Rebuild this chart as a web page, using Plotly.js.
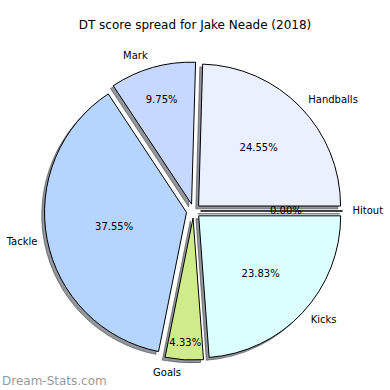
<!DOCTYPE html>
<html><head><meta charset="utf-8">
<script src="https://cdn.plot.ly/plotly-3.0.1.min.js"></script>
<style>html,body{margin:0;padding:0;background:#fff}#chart{width:390px;height:390px}</style>
</head><body><div id="chart"></div>
<script>
const titleText = 'DT score spread for Jake Neade (2018)';
const labels = ['Hitout', 'Handballs', 'Mark', 'Tackle', 'Goals', 'Kicks'];
const values = [0, 24.55, 9.75, 37.55, 4.33, 23.83];
const colors = ['#ffffff', '#eaf0ff', '#c6d8ff', '#b5d5ff', '#d0eb8a', '#dbffff'];
const explode = [0.05, 0.05, 0.05, 0.05, 0.05, 0.05];
const labelPull = [0.1, 0.1, 0.1, 0.1, 0.1, 0.1];
const watermark = 'Dream-Stats.com';

const W = 390, H = 390;
const dom = {x: [0.1138, 0.8785], y: [0.0767, 0.8413]};
const labDom = {x: [0.0956, 0.8967], y: [0.0585, 0.8595]};
const sh = 0.0072;
const shadowDom = {x: [dom.x[0] - sh, dom.x[1] - sh], y: [dom.y[0] - sh, dom.y[1] - sh]};

const total = values.reduce((a, b) => a + b, 0);
const pctText = v => (100 * v / total).toFixed(2) + '%';

const common = {
  type: 'pie', labels: labels, values: values, sort: false,
  direction: 'counterclockwise', rotation: 90,
  hoverinfo: 'skip'
};

const shadow = Object.assign({}, common, {
  domain: shadowDom, pull: explode,
  marker: {colors: labels.map(() => 'rgba(40,45,55,0.5)'), line: {color: 'rgba(40,45,55,0.5)', width: 1}},
  textinfo: 'none'
});
const main = Object.assign({}, common, {
  domain: dom, pull: explode,
  marker: {colors: colors, line: {color: '#000000', width: 1}},
  texttemplate: values.map(v => v > 0 ? '%{percent:.2%}' : ''),
  textposition: 'inside',
  insidetextorientation: 'horizontal',
  textfont: {family: 'DejaVu Sans', size: 10, color: '#000000'}
});
const lab = Object.assign({}, common, {
  domain: labDom, pull: labelPull,
  marker: {colors: labels.map(() => 'rgba(0,0,0,0)'), line: {width: 0}},
  textinfo: 'label',
  textposition: 'outside',
  textfont: {family: 'DejaVu Sans', size: 10, color: '#000000'}
});

// percentage labels of empty slices (the pie cannot place text inside a zero-width slice)
const cxp = (dom.x[0] + dom.x[1]) / 2, cyp = (dom.y[0] + dom.y[1]) / 2;
const rPx = Math.min((dom.x[1] - dom.x[0]) * W, (dom.y[1] - dom.y[0]) * H) / 2 / (1 + Math.max(...explode));
const zeroAnns = [];
let cum = 0;
values.forEach((v, i) => {
  if (v === 0) {
    const th = 2 * Math.PI * (cum + v / 2) / total;
    const d = (0.6 + explode[i]) * rPx;
    zeroAnns.push({
      text: pctText(v), xref: 'paper', yref: 'paper',
      x: cxp + d * Math.cos(th) / W, y: cyp + d * Math.sin(th) / H,
      xanchor: 'center', yanchor: 'middle', showarrow: false,
      font: {family: 'DejaVu Sans', size: 10, color: '#000000'}
    });
  }
  cum += v;
});

const layout = {
  width: W, height: H,
  margin: {l: 0, r: 0, t: 0, b: 0},
  paper_bgcolor: '#ffffff',
  showlegend: false,
  uniformtext: {mode: 'show', minsize: 10},
  font: {family: 'DejaVu Sans', color: '#000000'},
  title: {text: titleText, font: {family: 'DejaVu Sans', size: 12, color: '#000000'},
          x: 0.5, xanchor: 'center', y: 1 - 25 / H, yanchor: 'middle'},
  annotations: [{
    text: watermark, xref: 'paper', yref: 'paper', x: 0, y: 0,
    xanchor: 'left', yanchor: 'bottom', showarrow: false,
    font: {family: 'DejaVu Sans', size: 12, color: '#999999'}
  }].concat(zeroAnns)
};

Plotly.newPlot('chart', [shadow, main, lab], layout, {staticPlot: true});
</script></body></html>
